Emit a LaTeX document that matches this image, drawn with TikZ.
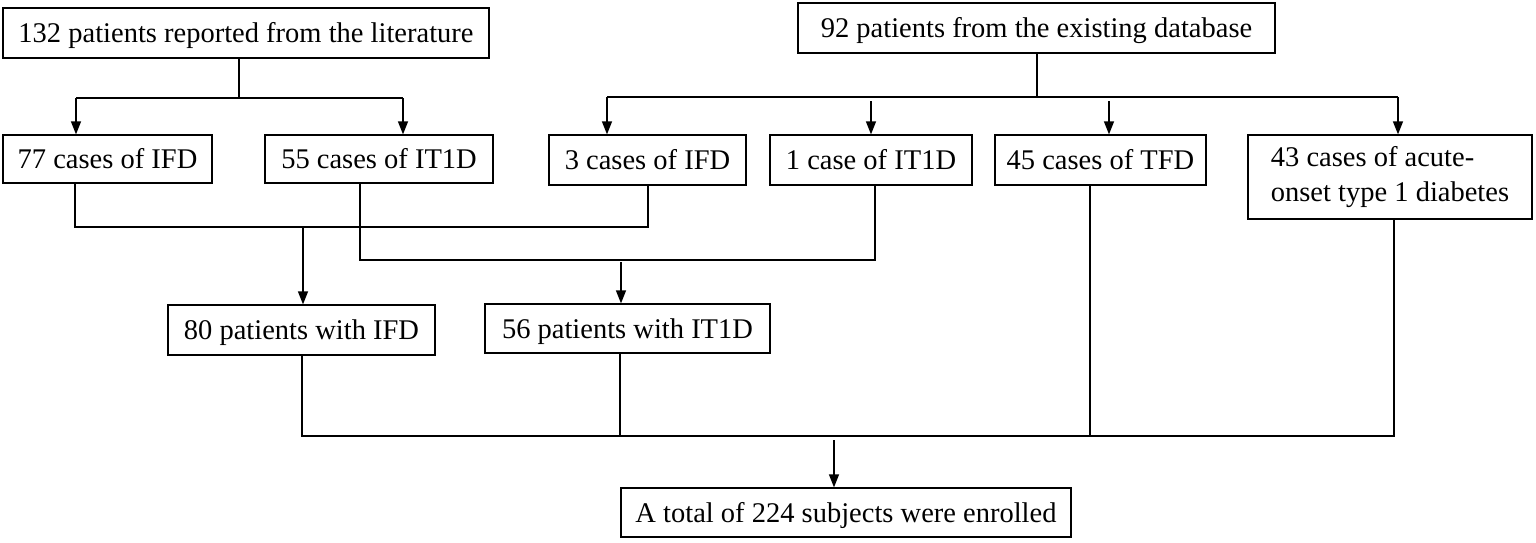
\documentclass[tikz,border=0pt]{standalone}
\usepackage{fontspec}
\setmainfont{Liberation Serif}
\usetikzlibrary{arrows.meta}
\begin{document}
\begin{tikzpicture}[x=1pt,y=-1pt, line width=1.3pt,
  box/.style={draw, line width=1.3pt, inner sep=0pt, font=\fontsize{28.5}{35}\selectfont},
  onebox/.style={box, text height=22pt, text depth=3pt},
  arr/.style={-{Triangle[length=13pt,width=10pt]}}]
\useasboundingbox (0,0) rectangle (1536,542);
% boxes
\node[onebox, minimum width=486pt, minimum height=50pt] (lit) at (246,33) {132 patients reported from the literature};
\node[onebox, minimum width=477pt, minimum height=50pt] (db) at (1036.5,28) {92 patients from the existing database};
\node[onebox, minimum width=209pt, minimum height=48pt] (a77) at (107.5,159) {77 cases of IFD};
\node[onebox, minimum width=228pt, minimum height=48pt] (a55) at (379,159) {55 cases of IT1D};
\node[onebox, minimum width=197pt, minimum height=50pt] (b3) at (647.5,160) {3 cases of IFD};
\node[onebox, minimum width=202pt, minimum height=50pt] (b1) at (871,160) {1 case of IT1D};
\node[onebox, minimum width=211pt, minimum height=50pt] (b45) at (1100.5,160) {45 cases of TFD};
\node[box, minimum width=284pt, minimum height=84pt, align=left] (b43) at (1390,177) {43 cases of acute-\\onset type 1 diabetes};
\node[onebox, minimum width=267pt, minimum height=50pt] (p80) at (301.5,330) {80 patients with IFD};
\node[onebox, minimum width=285pt, minimum height=49pt] (p56) at (627.5,328.5) {56 patients with IT1D};
\node[onebox, minimum width=450pt, minimum height=49pt] (tot) at (846,512.5) {A total of 224 subjects were enrolled};
% literature split
\coordinate (l0) at (239,98);
\coordinate (l1) at (76,98);
\coordinate (l2) at (403,98);
\draw (lit.south -| l0) -- (l0);
\draw (l1) -- (l2);
\draw[arr] (l1) -- (l1 |- a77.north);
\draw[arr] (l2) -- (l2 |- a55.north);
% database split
\coordinate (d0) at (1037,97);
\coordinate (d1) at (607,97);
\coordinate (d2) at (871,101);
\coordinate (d3) at (1109,101);
\coordinate (d4) at (1398,97);
\draw (db.south -| d0) -- (d0);
\draw (d1) -- (d4);
\draw[arr] (d1) -- (d1 |- b3.north);
\draw[arr] (d2) -- (d2 |- b1.north);
\draw[arr] (d3) -- (d3 |- b45.north);
\draw[arr] (d4) -- (d4 |- b43.north);
% IFD merge
\coordinate (m1) at (75,227);
\coordinate (m2) at (648,227);
\coordinate (m3) at (303,227);
\draw (a77.south -| m1) -- (m1) -- (m2) -- (b3.south -| m2);
\draw[arr] (m3) -- (m3 |- p80.north);
% IT1D merge
\coordinate (n1) at (360,260);
\coordinate (n2) at (875,260);
\coordinate (n3) at (621,262);
\draw (a55.south -| n1) -- (n1) -- (n2) -- (b1.south -| n2);
\draw[arr] (n3) -- (n3 |- p56.north);
% final merge
\coordinate (f1) at (302,436);
\coordinate (f2) at (1394,436);
\coordinate (f3) at (620,436);
\coordinate (f4) at (1090,436);
\coordinate (f5) at (834,440);
\draw (p80.south -| f1) -- (f1) -- (f2) -- (b43.south -| f2);
\draw (p56.south -| f3) -- (f3);
\draw (b45.south -| f4) -- (f4);
\draw[arr] (f5) -- (f5 |- tot.north);
\end{tikzpicture}
\end{document}
